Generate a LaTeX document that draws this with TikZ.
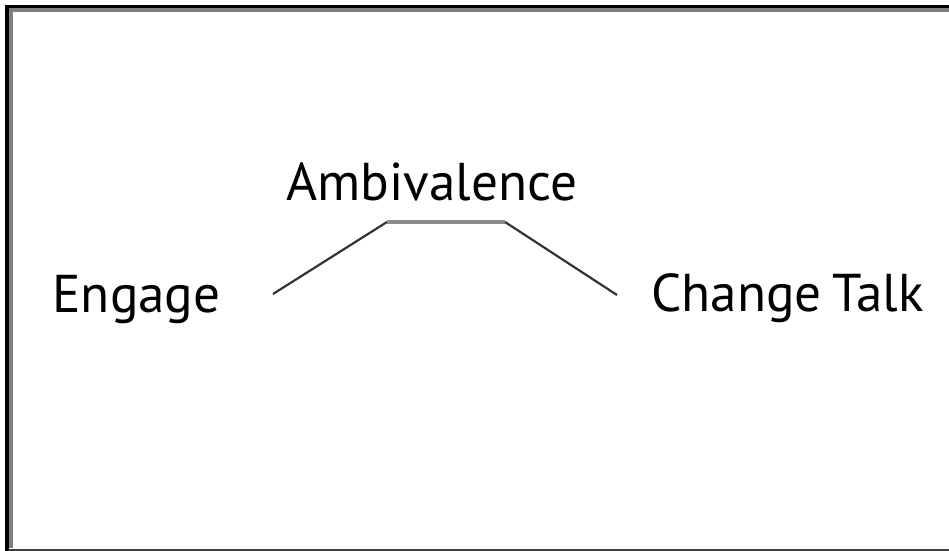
\documentclass[tikz,border=0pt]{standalone}
\usepackage{fontspec}
\setmainfont{PT Sans}
\definecolor{framegray}{gray}{0.5}
\definecolor{linegray}{gray}{0.55}
\tikzset{
    label text/.style={anchor=base west, inner sep=0pt, font=\fontsize{26.6}{31}\selectfont},
    link/.style={line width=1.1pt, black!80}
}
\begin{document}
\begin{tikzpicture}[x=0.5pt,y=-0.5pt]
        \useasboundingbox (0,0) rectangle (949,551);
        % frame
        \draw[line width=1.6pt] (5,6.5) -- (949,6.5);
        \draw[line width=1.6pt] (7,5) -- (7,551);
        \draw[framegray, line width=2pt] (9,10) -- (949,10);
        \draw[framegray, line width=2pt] (11,8) -- (11,548);
        \draw[black!75, line width=1.2pt] (9,550) -- (949,550);
        % labels
        \node[label text] (engage) at (52,313) {Engage};
        \node[label text] (ambivalence) at (286,200) {Ambivalence};
        \node[label text] (change) at (651,312) {\spaceskip=0.2em Change Talk};
        % connector
        \coordinate (start) at (273,294);
        \coordinate (peak left) at (387,222);
        \coordinate (peak right) at (505,222);
        \coordinate (end) at (617,295);
        \draw[link] (start) -- (peak left);
        \draw[linegray, line width=1.6pt] (peak left) -- (peak right);
        \draw[link] (peak right) -- (end);
    \end{tikzpicture}
\end{document}
